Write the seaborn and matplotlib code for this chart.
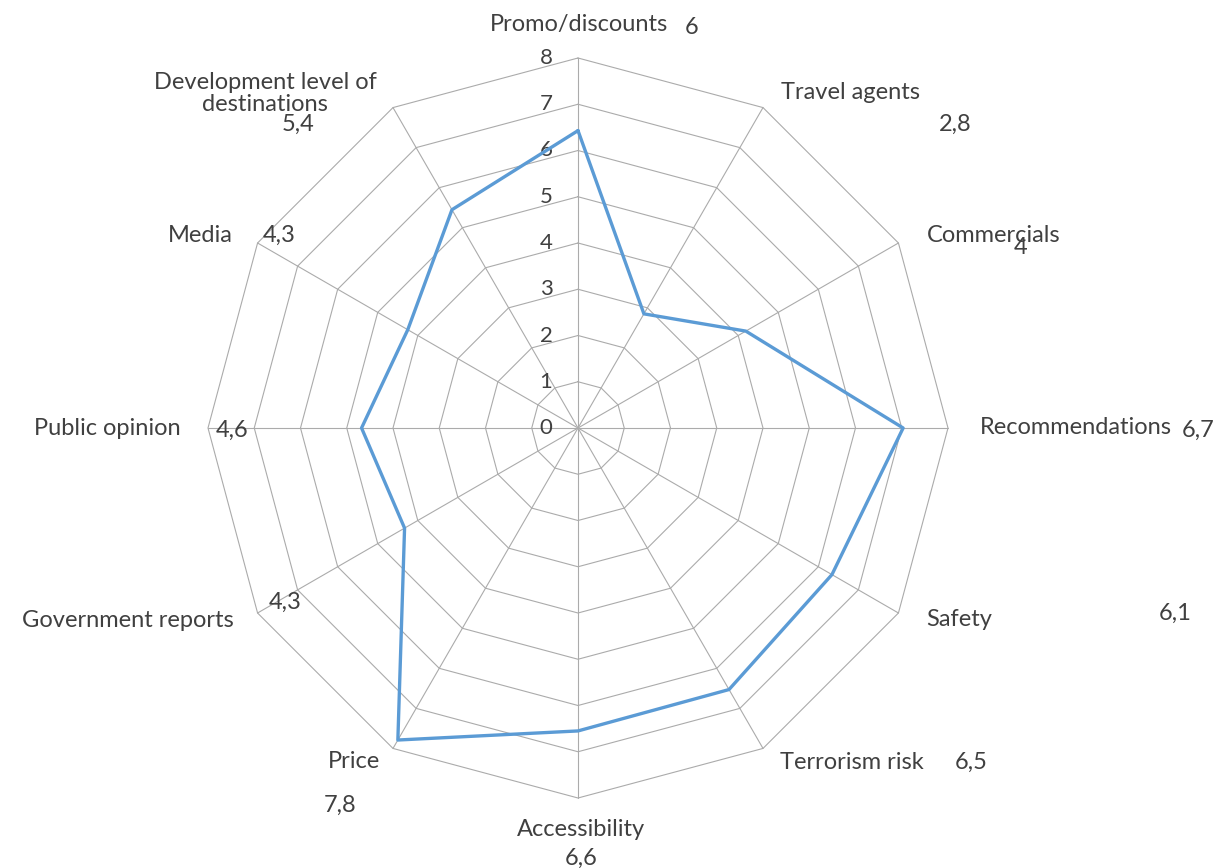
import numpy as np
import pandas as pd
import matplotlib
matplotlib.use("Agg")
import matplotlib.pyplot as plt
import seaborn as sns

# %% dados
categorias = ["Promo/discounts", "Travel agents", "Commercials", "Recommendations",
              "Safety", "Terrorism risk", "Accessibility", "Price",
              "Government reports", "Public opinion", "Media",
              "Development level of\ndestinations"]
valores = [6.43, 2.85, 4.19, 7.03, 6.34, 6.53, 6.55, 7.79, 4.33, 4.68, 4.25, 5.45]
rotulos_valor = ["6", "2,8", "4", "6,7", "6,1", "6,5", "6,6", "7,8", "4,3", "4,6", "4,3", "5,4"]
niveis = [0, 1, 2, 3, 4, 5, 6, 7, 8]

# %% layout (deslocamentos em pixels a partir do vertice externo)
off_cat = [(1, 34), (18, 15), (28, 8), (32, 1), (28, -7), (17, -14),
           (3, -31), (-39, -13), (-24, -7), (-27, 0), (-25, 8), (-128, 14)]
ha_cat = ["center", "left", "left", "left", "left", "left",
          "center", "center", "right", "right", "right", "center"]
off_val = [(114, 30), (192, -17), (122, -4), (250, -2), (277, 0), (208, -14),
           (3, -60), (-53, -57), (28, 11), (24, -2), (22, 8), (-95, -17)]

sns.set_style("white")
plt.rcParams["font.family"] = ["Lato", "DejaVu Sans"]
cor_texto = "#404040"
cor_grade = "#ABABAB"

n = len(categorias)
ang = np.arange(n) * 2 * np.pi / n
rmax = niveis[-1]

fig = plt.figure(figsize=(12.19, 8.68), dpi=100)
ax = fig.add_axes([0, 0, 1, 1])
esc = 370 / rmax  # pixels por unidade

# grade poligonal
fechado = np.append(ang, ang[0])
for nv in niveis[1:]:
    ax.plot(nv * np.sin(fechado), nv * np.cos(fechado), color=cor_grade, lw=0.8, zorder=1)
for a in ang:
    ax.plot([0, rmax * np.sin(a)], [0, rmax * np.cos(a)], color=cor_grade, lw=0.8, zorder=1)

# rotulos do eixo radial
for nv in niveis:
    ax.text(-32 / esc, nv, str(nv), ha="center", va="center", fontsize=16, color=cor_texto)

# serie
df = pd.DataFrame({"cat": categorias + [categorias[0]],
                   "v": valores + [valores[0]],
                   "a": list(ang) + [ang[0]]})
df["x"] = df["v"] * np.sin(df["a"])
df["y"] = df["v"] * np.cos(df["a"])
sns.lineplot(data=df, x="x", y="y", sort=False, estimator=None, ax=ax,
             color="#5B9BD5", lw=2.4, zorder=3)
ax.set_xlim(-578 / esc, (1219 - 578) / esc)
ax.set_ylim(-(868 - 428) / esc, 428 / esc)
ax.axis("off")

# rotulos das categorias e valores
for i, a in enumerate(ang):
    vx, vy = rmax * np.sin(a), rmax * np.cos(a)
    ax.annotate(categorias[i], (vx, vy), xytext=off_cat[i], textcoords="offset pixels",
                ha=ha_cat[i], va="center", fontsize=17, color=cor_texto,
                multialignment="center", linespacing=1.1)
    ax.annotate(rotulos_valor[i], (vx, vy), xytext=off_val[i], textcoords="offset pixels",
                ha="center", va="center", fontsize=17, color=cor_texto)

plt.savefig("out.png", dpi=100)
